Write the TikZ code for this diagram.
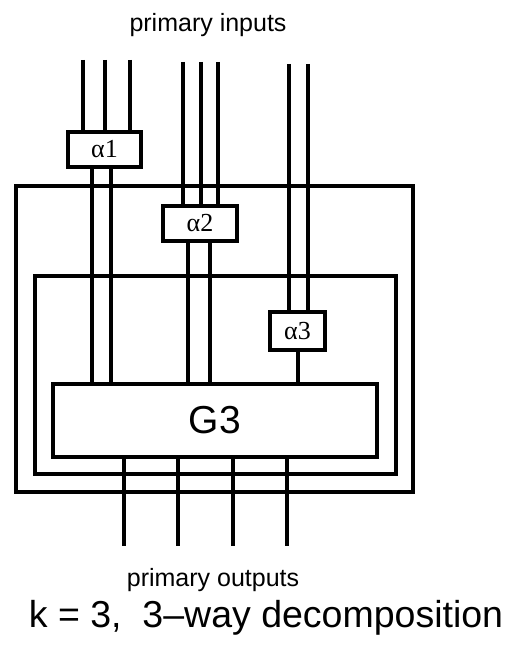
\documentclass[tikz,border=0pt]{standalone}
\usepackage{fontspec}
\setmainfont{Liberation Sans}
\newfontfamily\greekserif{Liberation Serif}
\begin{document}
\begin{tikzpicture}[x=1pt,y=-1pt,line width=3.2pt,
  blk/.style={draw,rectangle,inner sep=0pt,outer sep=0pt},
  alab/.style={blk,font=\greekserif\fontsize{26}{28}\selectfont},
  wire/.style={line width=3.2pt},
  lbl/.style={anchor=base,inner sep=0pt,font=\fontsize{25}{29}\selectfont}]
\useasboundingbox (0,0) rectangle (512,652);
% frames
\node[blk,minimum width=397pt,minimum height=306pt] (outer) at (214.5,339) {};
\node[blk,minimum width=361pt,minimum height=198pt] (inner) at (215.5,375) {};
% blocks
\node[alab,minimum width=73pt,minimum height=35pt] (a1) at (104.5,149.5) {α1};
\node[alab,minimum width=74pt,minimum height=35pt] (a2) at (200,223.5) {α2};
\node[alab,minimum width=55pt,minimum height=38pt] (a3) at (297.5,331) {α3};
\node[blk,minimum width=324pt,minimum height=73pt,font=\fontsize{39}{44}\selectfont] (g3) at (215,420.5) {G3};
% input free ends
\coordinate (i1) at (83,60);
\coordinate (i2) at (105,60);
\coordinate (i3) at (130,60);
\coordinate (i4) at (183,62);
\coordinate (i5) at (201,62);
\coordinate (i6) at (218,62);
\coordinate (i7) at (289,64);
\coordinate (i8) at (308,64);
\draw[wire] (i1) -- (i1 |- a1.north);
\draw[wire] (i2) -- (i2 |- a1.north);
\draw[wire] (i3) -- (i3 |- a1.north);
\draw[wire] (i4) -- (i4 |- a2.north);
\draw[wire] (i5) -- (i5 |- a2.north);
\draw[wire] (i6) -- (i6 |- a2.north);
\draw[wire] (i7) -- (i7 |- a3.north);
\draw[wire] (i8) -- (i8 |- a3.north);
% alpha outputs to G3
\coordinate (p1) at (92,0);
\coordinate (p2) at (111,0);
\coordinate (p3) at (188,0);
\coordinate (p4) at (210,0);
\coordinate (p5) at (298,0);
\draw[wire] (p1 |- a1.south) -- (p1 |- g3.north);
\draw[wire] (p2 |- a1.south) -- (p2 |- g3.north);
\draw[wire] (p3 |- a2.south) -- (p3 |- g3.north);
\draw[wire] (p4 |- a2.south) -- (p4 |- g3.north);
\draw[wire] (p5 |- a3.south) -- (p5 |- g3.north);
% outputs
\coordinate (o1) at (124,546);
\coordinate (o2) at (178,546);
\coordinate (o3) at (233,546);
\coordinate (o4) at (287,546);
\draw[wire] (o1 |- g3.south) -- (o1);
\draw[wire] (o2 |- g3.south) -- (o2);
\draw[wire] (o3 |- g3.south) -- (o3);
\draw[wire] (o4 |- g3.south) -- (o4);
% labels
\node[lbl] (pin) at (208,32) {primary inputs};
\node[lbl] (pout) at (213,586) {primary outputs};
\node[lbl,font=\fontsize{37.5}{42}\selectfont] (cap) at (266,627) {k = 3,\ \ 3–way decomposition};
\end{tikzpicture}
\end{document}
